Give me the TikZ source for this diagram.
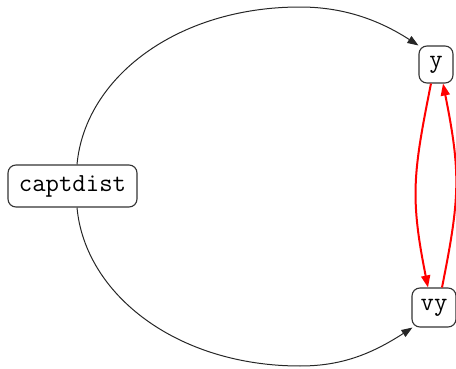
\documentclass[tikz,border=0pt]{standalone}
\usetikzlibrary{arrows.meta}
\begin{document}
\begin{tikzpicture}[x=1pt,y=1pt,
  statebox/.style={draw=black!80, line width=1.1pt, rounded corners=8pt,
    font=\fontsize{26}{30}\selectfont\ttfamily, inner sep=0pt},
  flow/.style={draw=black!85, line width=1pt,
    -{Triangle[length=11pt,width=8pt]}},
  loopflow/.style={draw=red, line width=2pt,
    -{Triangle[length=12pt,width=9pt]}}]
  \useasboundingbox (0,0) rectangle (456,368);

  % nodes
  \node[statebox, minimum width=129pt, minimum height=42pt] (captdist) at (72.5,182) {captdist};
  \node[statebox, minimum width=34pt, minimum height=37pt] (y) at (436,303.5) {y};
  \node[statebox, minimum width=44pt, minimum height=39pt] (vy) at (434,60.5) {vy};

  % apex points of the two long arcs
  \coordinate (topapex) at (300,361);
  \coordinate (botapex) at (300,2);

  % captdist -> y (upper arc)
  \draw[flow] ([xshift=4.5pt]captdist.north)
    .. controls +(8,87) and +(-123,0) .. (topapex)
    .. controls +(40,0) and +(-42.5,27.5) .. (y.north west);

  % captdist -> vy (lower arc)
  \draw[flow] ([xshift=4.5pt]captdist.south)
    .. controls +(8,-87) and +(-123,0) .. (botapex)
    .. controls +(40,0) and +(-42.5,-27.5) .. ([xshift=1pt]vy.south west);

  % y <-> vy
  \draw[loopflow] ([xshift=-5pt]y.south)
    .. controls +(-18,-90) and +(-18,90) .. ([xshift=-6pt]vy.north);
  \draw[loopflow] ([xshift=8pt]vy.north)
    .. controls +(18,90) and +(18,-90) .. ([xshift=7pt]y.south);
\end{tikzpicture}
\end{document}
